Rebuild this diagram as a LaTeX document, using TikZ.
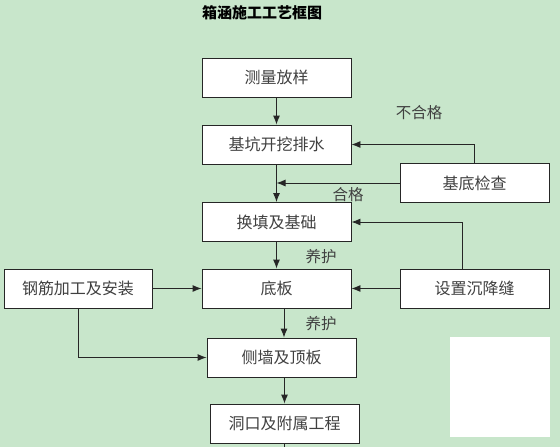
\documentclass[tikz,border=0pt]{standalone}
\usepackage{fontspec}
\newfontfamily\cjk{Noto Sans CJK SC}
\usepackage{tikz}
\usetikzlibrary{arrows.meta}
\usepackage{xcolor}
\definecolor{bggreen}{RGB}{200,230,203}

\begin{document}
\begin{tikzpicture}[x=1pt,y=-1pt,
  box/.style={draw=black!85,fill=white,line width=0.9pt,minimum width=149pt,minimum height=39pt,inner sep=0pt,font=\cjk\fontsize{16}{16}\selectfont,text=black!75},
  lab/.style={font=\cjk\fontsize{15.5}{15.5}\selectfont,text=black!75,inner sep=0pt},
  flow/.style={-{Latex[length=9pt,width=7pt]},line width=0.9pt,black!85}]
\fill[bggreen] (0,0) rectangle (560,447);
\fill[white] (450,337) rectangle (550,437);
\node[lab,text=black,font=\cjk\bfseries\fontsize{15}{15}\selectfont] (title) at (262,13){箱涵施工工艺框图};
% main column
\node[box] (survey) at (276.5,77.5){测量放样};
\node[box] (pit) at (276.5,144.5){基坑开挖排水};
\node[box] (refill) at (276.5,222){换填及基础};
\node[box] (slab) at (276.5,288.5){底板};
\node[box] (wall) at (281.5,357.5){侧墙及顶板};
\node[box] (portal) at (284.5,423.5){洞口及附属工程};
% side boxes
\node[box] (check) at (474.5,183){基底检查};
\node[box,minimum width=148pt] (rebar) at (78,288.5){钢筋加工及安装};
\node[box] (joint) at (474.5,288.5){设置沉降缝};
\coordinate (bottomend) at (286,447);
% labels
\node[lab] (fail) at (419,113){不合格};
\node[lab] (pass) at (348,195){合格};
\node[lab] (cure1) at (321,257){养护};
\node[lab] (cure2) at (321,324){养护};
% connectors
\draw[flow] (survey) -- (pit);
\draw[flow] (pit) -- (refill);
\draw[flow] (refill) -- (slab);
\draw[flow] ([xshift=2.5pt]slab.south -| wall.north) -- ([xshift=2.5pt]wall.north);
\draw[flow] (wall.south -| portal.north) -- (portal.north);
\draw[line width=0.9pt,black!85] (portal.south) -- (portal.south |- bottomend);
\draw[flow] (check.west) -- (check.west -| pit.south);
\draw[flow] (check.north) |- (pit.east);
\draw[flow] ([xshift=-12pt]joint.north) |- (refill.east);
\draw[flow] (joint) -- (slab);
\draw[flow] (rebar) -- (slab);
\draw[flow] (rebar.south) |- (wall.west);
\end{tikzpicture}
\end{document}
